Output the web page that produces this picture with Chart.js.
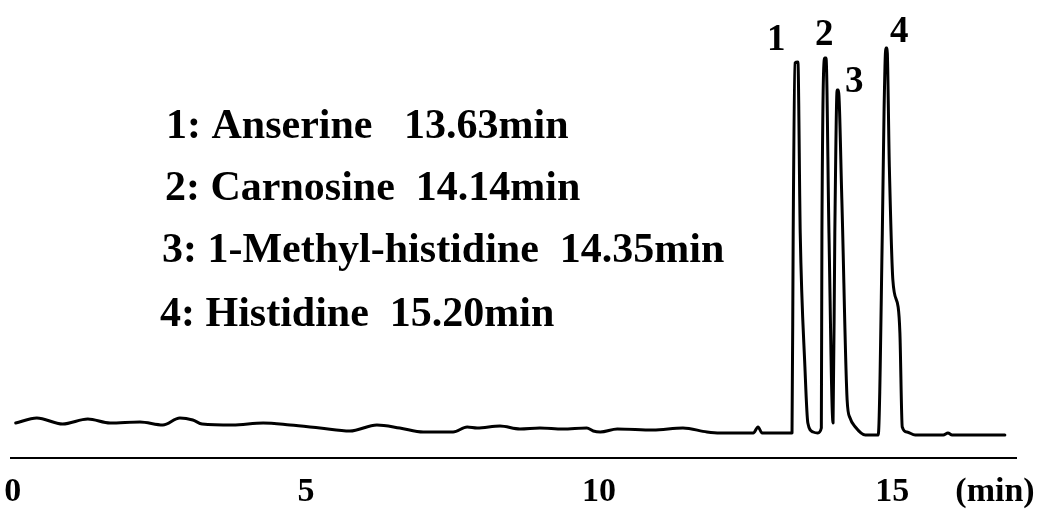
<!DOCTYPE html>
<html>
<head>
<meta charset="utf-8">
<script src="https://cdn.jsdelivr.net/npm/chart.js@4.4.1/dist/chart.umd.min.js"></script>
<style>
  html, body { margin: 0; padding: 0; background: #fff; }
  #wrap { width: 1044px; height: 509px; }
</style>
</head>
<body>
<div id="wrap"><canvas id="chrom"></canvas></div>
<script>
  // retention time (min) and detector signal
  const times = [
    0.05, 0.41, 0.85, 1.28, 1.66, 2.17, 2.56, 2.85, 3.07, 3.23,
    3.75, 4.27, 4.73, 5.24, 5.75, 6.21, 6.60, 7.00, 7.51, 7.75,
    7.92, 8.31, 8.65, 8.99, 9.38, 9.79, 9.90, 10.02, 10.31, 10.92,
    11.43, 11.84, 12.06, 12.63, 12.71, 12.78, 13.29, 13.31, 13.34, 13.39,
    13.43, 13.51, 13.56, 13.65, 13.73, 13.79, 13.80, 13.85, 13.87, 13.92,
    13.99, 14.02, 14.06, 14.08, 14.14, 14.23, 14.28, 14.37, 14.54, 14.76,
    14.83, 14.86, 14.89, 14.91, 14.95, 15.01, 15.10, 15.13, 15.17, 15.25,
    15.39, 15.87, 15.95, 16.02, 16.92
  ];
  const signal = [
    12, 17, 11, 16, 12, 13, 10, 17, 15, 11,
    10, 12, 10, 7, 4, 10, 7, 3, 3, 8,
    7, 9, 6, 7, 6, 7, 4, 3, 6, 5,
    7, 3, 2, 2, 8, 2, 2, 202, 372, 373,
    202, 68, 12, 3, 2, 7, 202, 377, 377, 202,
    12, 202, 345, 345, 235, 35, 17, 8, 0, 0,
    202, 325, 387, 387, 268, 155, 128, 102, 8, 3,
    0, 0, 2, 0, 0
  ];

  const tickValues = [0, 5, 10, 15];
  const peakIds = ['1', '2', '3', '4'];
  const compounds = ['Anserine', 'Carnosine', '1-Methyl-histidine', 'Histidine'];
  const retention = ['13.63', '14.14', '14.35', '15.20'];
  const gaps = ['   ', '  ', '  ', '  '];

  // where the peak numbers sit, in data units
  const peakLabelAt = [[13.02, 385], [13.84, 390], [14.35, 343], [15.12, 393]];
  // legend lines: left pixel and baseline pixel
  const legendAt = [[166, 138], [165, 200], [162, 262], [160, 326]];

  const serif = '"Liberation Serif", "Times New Roman", serif';
  const points = times.map((t, i) => ({ x: t, y: signal[i] }));

  const annotate = {
    id: 'annotate',
    afterDraw(chart) {
      const ctx = chart.ctx;
      const xs = chart.scales.x, ys = chart.scales.y;
      ctx.save();
      ctx.fillStyle = '#000';
      ctx.font = 'bold 37px ' + serif;
      ctx.textAlign = 'center';
      ctx.textBaseline = 'alphabetic';
      peakIds.forEach((id, i) => {
        ctx.fillText(id, xs.getPixelForValue(peakLabelAt[i][0]), ys.getPixelForValue(peakLabelAt[i][1]));
      });

      ctx.font = 'bold 42px ' + serif;
      ctx.textAlign = 'left';
      peakIds.forEach((id, i) => {
        const txt = id + ': ' + compounds[i] + gaps[i] + retention[i] + 'min';
        ctx.fillText(txt, legendAt[i][0], legendAt[i][1]);
      });

      ctx.font = 'bold 34px ' + serif;
      ctx.textAlign = 'center';
      ctx.textBaseline = 'middle';
      ctx.fillText('(min)', 995, xs.top + 14 + 20.4);
      ctx.restore();
    }
  };

  new Chart(document.getElementById('chrom'), {
    type: 'line',
    data: {
      datasets: [{
        data: points,
        borderColor: '#000',
        borderWidth: 3,
        borderJoinStyle: 'round',
        borderCapStyle: 'round',
        cubicInterpolationMode: 'monotone',
        pointRadius: 0,
        fill: false
      }]
    },
    options: {
      responsive: true,
      maintainAspectRatio: false,
      animation: false,
      layout: { padding: { left: 11, right: 28, top: 0, bottom: 0 } },
      plugins: { legend: { display: false }, tooltip: { enabled: false } },
      scales: {
        x: {
          type: 'linear',
          min: -0.03,
          max: 17.11,
          grid: { display: false, drawTicks: false },
          border: { display: true, color: '#000', width: 2 },
          afterBuildTicks: (s) => { s.ticks = tickValues.map(v => ({ value: v })); },
          afterFit: (s) => { s.height = 51; s.paddingLeft = 0; s.paddingRight = 0; },
          ticks: {
            autoSkip: false,
            maxRotation: 0,
            padding: 14,
            color: '#000',
            font: { family: serif, weight: 'bold', size: 34 }
          }
        },
        y: {
          display: false,
          min: -23,
          max: 435
        }
      }
    },
    plugins: [annotate]
  });
</script>
</body>
</html>
